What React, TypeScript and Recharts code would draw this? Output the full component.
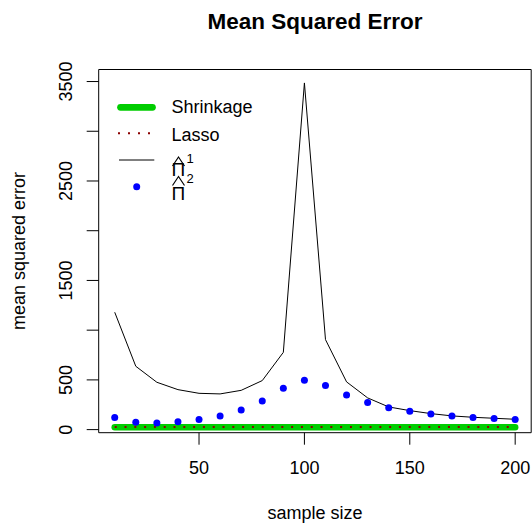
import { LineChart, Line, XAxis, YAxis, ReferenceArea } from 'recharts';

const sampleSize = [10, 20, 30, 40, 50, 60, 70, 80, 90, 100, 110, 120, 130, 140, 150, 160, 170, 180, 190, 200];
const shrinkageMse = [25, 25, 25, 25, 25, 25, 25, 25, 25, 25, 25, 25, 25, 25, 25, 25, 25, 25, 25, 25];
const lassoMse = [26, 26, 26, 26, 26, 26, 26, 26, 26, 26, 26, 26, 26, 26, 26, 26, 26, 26, 26, 26];
const pi1Mse = [1180, 637, 476, 402, 365, 359, 395, 493, 777, 3486, 905, 480, 319, 228, 191, 161, 138, 124, 114, 104];
const pi2Mse = [121, 73, 67, 80, 101, 138, 198, 289, 415, 496, 443, 349, 272, 221, 184, 158, 138, 121, 111, 101];

const xTicks = [50, 100, 150, 200];
const yTicks = [0, 500, 1000, 1500, 2000, 2500, 3000, 3500];
const yLabelled = [0, 500, 1500, 2500, 3500];

const rows = sampleSize.map((n, i) => ({
  n,
  shrinkage: shrinkageMse[i],
  lasso: lassoMse[i],
  pi1: pi1Mse[i],
  pi2: pi2Mse[i],
}));

const font = 'Liberation Sans, Arial, Helvetica, sans-serif';

const XTick = (props: any) => (
  <text x={props.x} y={props.y + 29.5} textAnchor="middle" fontSize={18} fontFamily={font} fill="#000">
    {props.payload.value}
  </text>
);

const YTick = (props: any) => {
  if (!yLabelled.includes(props.payload.value)) return <g />;
  const x = props.x - 14.7;
  return (
    <text x={x} y={props.y} transform={`rotate(-90, ${x}, ${props.y})`} textAnchor="middle"
      fontSize={18} fontFamily={font} fill="#000">
      {props.payload.value}
    </text>
  );
};

// plotmath-style hat over the Pi symbol
const Hat = ({ x, y }: { x: number; y: number }) => (
  <path d={`M ${x} ${y + 9} L ${x + 6} ${y} L ${x + 12} ${y + 9}`} stroke="#000" strokeWidth={1.2} fill="none" />
);

export default function App() {
  return (
    <div style={{ position: 'absolute', left: 0, top: 0, width: 532, height: 523, background: '#fff' }}>
      <LineChart width={532} height={523} data={rows} margin={{ top: 69.5, right: 0.8, bottom: 0, left: 0 }}>
        <XAxis dataKey="n" type="number" domain={[2.4, 207.6]} ticks={xTicks} allowDataOverflow
          axisLine={false} tickLine={{ stroke: '#000' }} tickSize={12} tickMargin={0} height={90.3}
          tick={<XTick />} />
        <YAxis type="number" domain={[-31, 3621]} ticks={yTicks} allowDataOverflow
          axisLine={false} tickLine={{ stroke: '#000' }} tickSize={12} tickMargin={0} width={98.7}
          tick={<YTick />} />
        <ReferenceArea x1={2.4} x2={207.6} y1={-31} y2={3621} fill="none" stroke="#000" strokeWidth={1} ifOverflow="visible" />
        <Line dataKey="pi1" type="linear" stroke="#000" strokeWidth={1} dot={false} isAnimationActive={false} />
        <Line dataKey="pi2" type="linear" stroke="none" dot={{ r: 3.5, fill: '#0000FF', stroke: 'none' }} isAnimationActive={false} />
        <Line dataKey="shrinkage" type="linear" stroke="#00CD00" strokeWidth={6.5} strokeLinecap="round" dot={false} isAnimationActive={false} />
        <Line dataKey="lasso" type="linear" stroke="#8B0000" strokeWidth={2} strokeDasharray="2 7.8" dot={false} isAnimationActive={false} />
      </LineChart>
      <svg width={532} height={523} style={{ position: 'absolute', left: 0, top: 0, pointerEvents: 'none' }}>
        <text x={315} y={29} textAnchor="middle" fontSize={22.5} fontWeight="bold" fontFamily={font}>Mean Squared Error</text>
        <text x={315} y={519} textAnchor="middle" fontSize={18} fontFamily={font}>sample size</text>
        <text x={25} y={251} textAnchor="middle" fontSize={18} fontFamily={font} transform="rotate(-90, 25, 251)">mean squared error</text>

        <line x1={120.5} y1={107.3} x2={152.5} y2={107.3} stroke="#00CD00" strokeWidth={6.7} strokeLinecap="round" />
        <text x={171.5} y={113} fontSize={18} fontFamily={font}>Shrinkage</text>

        <line x1={118} y1={133.3} x2={150} y2={133.3} stroke="#8B0000" strokeWidth={2} strokeDasharray="2 8" />
        <text x={171.5} y={140.5} fontSize={18} fontFamily={font}>Lasso</text>

        <line x1={119} y1={160} x2={154.3} y2={160} stroke="#000" strokeWidth={1} />
        <Hat x={172.5} y={157} />
        <text x={171.5} y={176} fontSize={19} fontFamily={font}>Π</text>
        <text x={186.5} y={163} fontSize={13} fontFamily={font}>1</text>

        <circle cx={136.7} cy={186.7} r={3.5} fill="#0000FF" />
        <Hat x={172.5} y={176.5} />
        <text x={171.5} y={199.5} fontSize={19} fontFamily={font}>Π</text>
        <text x={186.5} y={182.5} fontSize={13} fontFamily={font}>2</text>
      </svg>
    </div>
  );
}
